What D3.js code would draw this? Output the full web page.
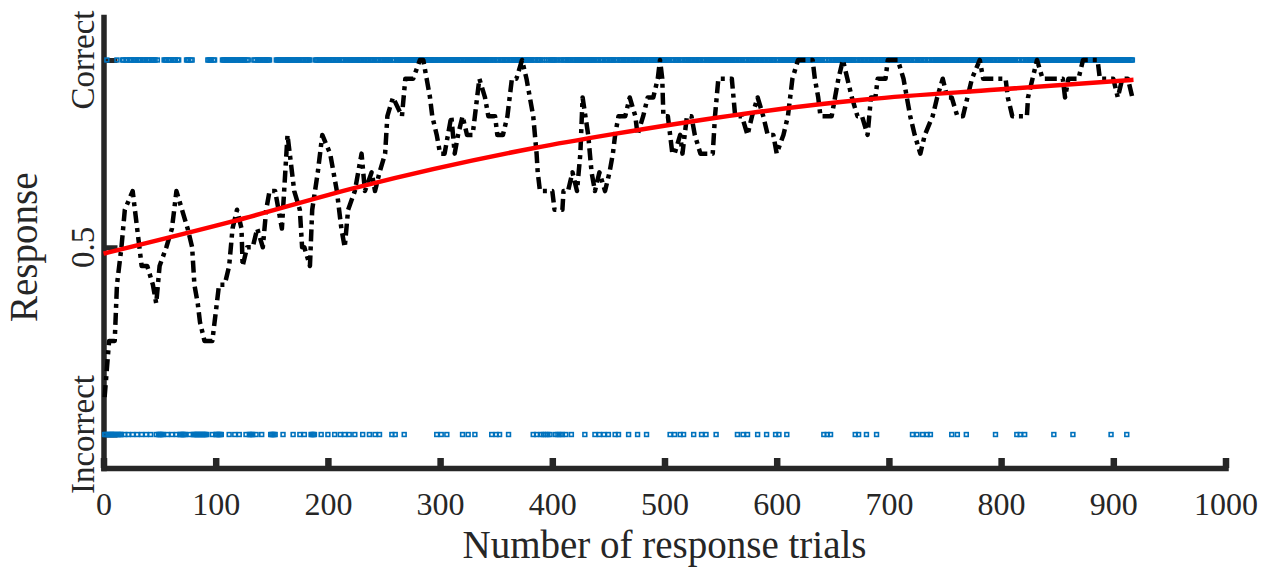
<!DOCTYPE html>
<html>
<head>
<meta charset="utf-8">
<script src="https://cdn.jsdelivr.net/npm/d3@7"></script>
<style>
  html, body { margin: 0; padding: 0; background: #fff; }
  svg { display: block; }
  text { font-family: "Liberation Serif", "Times New Roman", serif; fill: #262626; }
</style>
</head>
<body>
<svg id="chart" width="1271" height="571"></svg>
<script>
// ---------------- data ----------------
const totalTrials = 917;
const xTicks = [0, 100, 200, 300, 400, 500, 600, 700, 800, 900, 1000];
const yTickValues = [0, 0.5, 1];
const yTickLabels = ["Incorrect", "0.5", "Correct"];
const xTitle = "Number of response trials";
const yTitle = "Response";

// trials answered incorrectly (the rest are correct)
const incorrectTrials = [1, 2, 4, 5, 6, 7, 8, 9, 10, 11, 13, 14, 15, 16,
  19, 22, 26, 30, 34, 38, 42, 47, 49, 50, 51, 52, 53, 57, 61, 65,
  68, 69, 70, 71, 72, 73, 77, 80, 81, 82, 83, 84, 85, 86, 87, 88, 89, 90, 91, 92,
  97, 100, 101, 102, 103, 104, 105, 112, 117, 121, 127, 130, 131, 132, 133, 136, 141,
  149, 150, 151, 152, 153, 160, 169, 175, 179, 185, 186, 187, 188, 194, 200, 206, 211,
  215, 219, 224, 231, 237, 242, 246, 257, 260, 268, 297, 301, 306, 320, 325, 331,
  346, 350, 353, 361, 383, 386, 390, 392, 394, 396, 398, 403, 405, 407, 409, 412, 417,
  429, 438, 442, 446, 450, 456, 459, 468, 476, 484, 505, 509, 514, 517, 526, 533, 537,
  546, 565, 570, 574, 583, 591, 599, 602, 609, 642, 645, 648, 670, 673, 680, 689,
  721, 725, 730, 734, 737, 756, 761, 769, 795, 814, 817, 821, 847, 864, 898, 912];

// running proportion correct (dash-dot line)
const avgTrials = [1, 5, 10, 12, 16, 19, 26, 30, 34, 39, 44, 47, 50, 56, 61, 65, 70, 75, 79, 81,
  84, 86, 90, 97, 101, 103, 108, 112, 115, 119, 123, 124, 128, 133, 137, 142, 145, 148, 153, 159,
  161, 164, 168, 170, 175, 177, 179, 184, 186, 191, 195, 202, 208, 212, 215, 218, 224, 227, 230, 233,
  239, 242, 246, 251, 253, 258, 266, 269, 276, 282, 285, 288, 291, 293, 297, 300, 304, 307, 310, 313,
  316, 320, 324, 329, 333, 335, 340, 343, 349, 351, 356, 360, 364, 368, 373, 377, 380, 383, 386, 387,
  389, 400, 402, 409, 410, 414, 418, 422, 425, 427, 432, 435, 438, 442, 447, 451, 454, 456, 459, 465,
  469, 474, 476, 481, 485, 490, 494, 496, 498, 499, 503, 507, 509, 514, 516, 520, 524, 527, 532, 543,
  545, 548, 554, 560, 563, 569, 574, 578, 583, 588, 592, 597, 600, 606, 610, 614, 619, 632, 634, 637,
  639, 649, 652, 655, 659, 663, 667, 672, 676, 681, 684, 688, 690, 697, 699, 708, 713, 716, 719, 723,
  728, 732, 739, 743, 748, 752, 756, 761, 766, 770, 774, 781, 784, 804, 806, 810, 823, 824, 828, 832,
  837, 855, 857, 860, 869, 873, 886, 888, 900, 904, 908, 913, 917];
const avgValues = [0.10, 0.25, 0.25, 0.40, 0.50, 0.60, 0.65, 0.55, 0.45, 0.45, 0.40, 0.35, 0.45, 0.50, 0.55, 0.65, 0.60, 0.55, 0.50, 0.40,
  0.35, 0.30, 0.25, 0.25, 0.35, 0.40, 0.40, 0.45, 0.55, 0.60, 0.55, 0.45, 0.50, 0.50, 0.55, 0.50, 0.60, 0.65, 0.65, 0.55,
  0.65, 0.80, 0.70, 0.65, 0.60, 0.50, 0.50, 0.45, 0.60, 0.70, 0.80, 0.75, 0.65, 0.55, 0.50, 0.60, 0.65, 0.70, 0.75, 0.65,
  0.70, 0.65, 0.70, 0.75, 0.85, 0.90, 0.85, 0.95, 0.95, 1.00, 1.00, 0.95, 0.90, 0.85, 0.80, 0.75, 0.75, 0.80, 0.85, 0.75,
  0.80, 0.85, 0.80, 0.80, 0.90, 0.95, 0.90, 0.85, 0.85, 0.80, 0.80, 0.85, 0.95, 0.95, 1.00, 0.95, 0.90, 0.85, 0.75, 0.70,
  0.65, 0.65, 0.60, 0.60, 0.65, 0.65, 0.70, 0.65, 0.75, 0.90, 0.80, 0.70, 0.65, 0.70, 0.65, 0.70, 0.75, 0.80, 0.85, 0.85,
  0.90, 0.85, 0.80, 0.85, 0.90, 0.90, 0.95, 1.00, 0.95, 0.85, 0.85, 0.75, 0.75, 0.80, 0.75, 0.85, 0.85, 0.80, 0.75, 0.75,
  0.85, 0.95, 0.95, 0.95, 0.85, 0.85, 0.80, 0.85, 0.90, 0.85, 0.80, 0.80, 0.75, 0.80, 0.85, 0.95, 1.00, 1.00, 0.95, 0.90,
  0.85, 0.85, 0.90, 0.95, 1.00, 0.95, 0.90, 0.85, 0.85, 0.80, 0.90, 0.90, 0.95, 0.95, 1.00, 1.00, 0.95, 0.90, 0.85, 0.80,
  0.75, 0.80, 0.85, 0.90, 0.95, 0.90, 0.90, 0.85, 0.85, 0.90, 0.95, 1.00, 0.95, 0.95, 0.90, 0.85, 0.85, 0.90, 0.95, 1.00,
  0.95, 0.95, 0.90, 0.95, 0.95, 1.00, 1.00, 0.95, 0.95, 0.90, 0.95, 0.95, 0.90];

// fitted learning curve (solid red)
const fitTrials = [0, 115, 226, 384, 454, 570, 681, 797, 918];
const fitValues = [0.483, 0.569, 0.660, 0.765, 0.802, 0.856, 0.895, 0.921, 0.947];

// ---------------- drawing ----------------
const svg = d3.select("#chart");
const axisColor = "#262626";
const blue = "#0072BD";

const x = d3.scaleLinear().domain([0, 1000]).range([103.5, 1225.5]);
const y = d3.scaleLinear().domain([-0.0894, 1.1148]).range([468, 17]);

// x axis
const gx = svg.append("g").attr("transform", `translate(0,${y.range()[0]})`)
  .call(d3.axisBottom(x).tickValues(xTicks).tickSizeInner(-10).tickSizeOuter(0).tickPadding(24).tickFormat(d3.format("d")));
gx.select(".domain").attr("stroke", axisColor).attr("stroke-width", 5.5).attr("stroke-linecap", "square");
gx.selectAll(".tick line").attr("stroke", axisColor).attr("stroke-width", 6.5);
gx.selectAll(".tick text").attr("font-size", 32).attr("fill", axisColor)
  .style("font-family", '"Liberation Serif", serif');

// y axis
const gy = svg.append("g").attr("transform", `translate(${x.range()[0]},0)`)
  .call(d3.axisLeft(y).tickValues(yTickValues).tickSizeInner(-14).tickSizeOuter(0).tickFormat(""));
gy.select(".domain").attr("stroke", axisColor).attr("stroke-width", 5.5).attr("stroke-linecap", "square");
gy.selectAll(".tick line").attr("stroke", axisColor).attr("stroke-width", 5);

// rotated y tick labels
yTickValues.forEach((v, i) => {
  svg.append("text")
    .attr("transform", `translate(94,${y(v)}) rotate(-90)`)
    .attr("text-anchor", "middle")
    .attr("font-size", 33)
    .text(yTickLabels[i]);
});

// axis titles
svg.append("text")
  .attr("x", x(500)).attr("y", 558)
  .attr("text-anchor", "middle").attr("font-size", 39)
  .text(xTitle);
svg.append("text")
  .attr("transform", `translate(37,${y(0.5)}) rotate(-90)`)
  .attr("text-anchor", "middle").attr("font-size", 39)
  .text(yTitle);

// response markers
const incorrectSet = new Set(incorrectTrials);
const allTrials = d3.range(1, totalTrials + 1);
const responses = allTrials.map(t => ({ t, r: incorrectSet.has(t) ? 0 : 1 }));
const ms = 3.8;
svg.append("g").selectAll("rect").data(responses).join("rect")
  .attr("x", d => x(d.t) - ms / 2)
  .attr("y", d => y(d.r) - ms / 2)
  .attr("width", ms).attr("height", ms)
  .attr("fill", "none").attr("stroke", blue).attr("stroke-width", 1.6);

// running average dash-dot line
const avgData = avgTrials.map((t, i) => [t, avgValues[i]]);
svg.append("path")
  .datum(avgData)
  .attr("d", d3.line().x(d => x(d[0])).y(d => y(d[1])))
  .attr("fill", "none").attr("stroke", "#000").attr("stroke-width", 4.5)
  .attr("stroke-dasharray", "12,5,4,5").attr("stroke-linejoin", "round");

// fitted curve
const fitData = fitTrials.map((t, i) => [t, fitValues[i]]);
svg.append("path")
  .datum(fitData)
  .attr("d", d3.line().curve(d3.curveMonotoneX).x(d => x(d[0])).y(d => y(d[1])))
  .attr("fill", "none").attr("stroke", "#FF0000").attr("stroke-width", 4.5);
</script>
</body>
</html>
